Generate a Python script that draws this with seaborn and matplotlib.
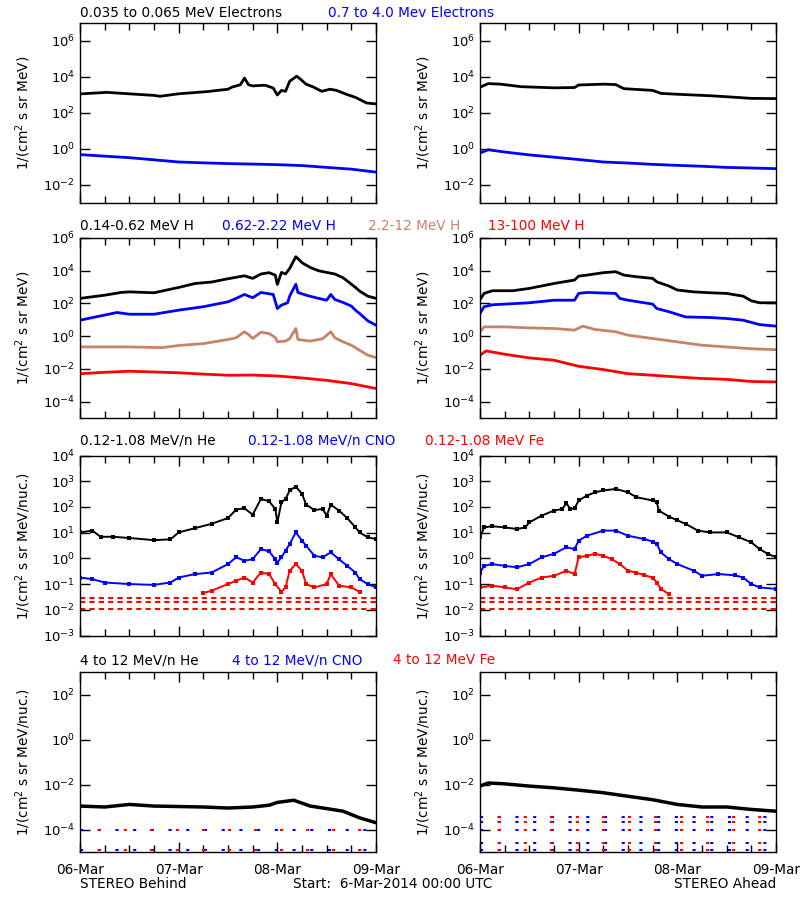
import numpy as np
import pandas as pd
import matplotlib
matplotlib.use("Agg")
import matplotlib.pyplot as plt
import matplotlib.dates as mdates
from matplotlib.ticker import FixedLocator, FuncFormatter, NullLocator
import seaborn as sns

# ---------------- DATA (hours after 2014-03-06 00:00 UTC) ----------------
# Row 1: electrons
e_lo_B_h = [0, 6.5, 18, 19.5, 24, 31, 36, 37, 39, 40, 41, 42, 45, 47, 48, 49, 50, 51, 52.7, 53.5, 55, 56.8, 58.8, 60.8, 62.4, 65, 67, 69.7, 72]
e_lo_B = [1150, 1400, 950, 850, 1170, 1550, 2100, 2750, 3700, 8700, 3700, 3200, 3500, 2450, 1000, 1800, 1600, 5800, 11000, 8000, 4000, 2750, 1600, 2100, 1800, 1050, 740, 360, 320]
e_hi_B_h = [0, 6, 12, 18, 24, 30, 36, 42, 48, 54, 60, 66, 72]
e_hi_B = [0.49, 0.40, 0.33, 0.25, 0.19, 0.17, 0.155, 0.145, 0.135, 0.12, 0.095, 0.076, 0.052]
e_lo_A_h = [0, 2, 5, 10, 18, 23, 24, 30, 33, 35, 42, 44, 48, 56, 60, 66, 72]
e_lo_A = [2700, 4300, 4000, 2900, 2500, 2600, 3600, 4000, 3800, 2250, 1800, 1230, 1100, 910, 800, 650, 630]
e_hi_A_h = [0, 2, 6, 12, 18, 24, 30, 36, 42, 48, 54, 60, 66, 72]
e_hi_A = [0.6, 0.91, 0.68, 0.47, 0.35, 0.26, 0.19, 0.166, 0.14, 0.123, 0.11, 0.095, 0.088, 0.081]

# Row 2: protons
h1_B_h = [0, 6, 10, 12, 18, 24, 28, 32, 36, 40, 42, 44, 46, 47.5, 48, 49, 50, 51, 52.5, 54, 56, 58, 60, 62, 64, 66, 67, 68, 70, 72]
h1_B = [204, 320, 470, 510, 450, 950, 1660, 2040, 3240, 4900, 3400, 6300, 7600, 5400, 1450, 7900, 6300, 13800, 72000, 31000, 15800, 10000, 7900, 6300, 3700, 1500, 950, 575, 280, 204]
h2_B_h = [0, 6, 9, 12, 18, 24, 30, 36, 38, 40, 42, 44, 47, 48, 49, 50.5, 51, 52.5, 53, 55, 58, 60, 61, 62, 64, 66, 67, 68, 70, 72]
h2_B = [9.5, 19.5, 28, 22, 22, 39, 63, 126, 204, 355, 224, 470, 355, 49, 79, 110, 280, 1500, 470, 320, 204, 158, 355, 174, 115, 69, 39, 24.5, 8.7, 4.7]
h3_B_h = [0, 12, 20, 24, 30, 36, 38, 40, 41, 42, 44, 46, 47.5, 48, 50, 51, 52.5, 53, 56, 59, 61, 62, 64, 66, 68, 70, 72]
h3_B = [0.22, 0.22, 0.20, 0.27, 0.35, 0.63, 0.8, 1.86, 1.26, 0.72, 1.74, 1.45, 0.83, 0.45, 0.5, 0.7, 2.95, 0.63, 0.5, 0.69, 1.86, 0.8, 0.45, 0.28, 0.138, 0.069, 0.049]
h4_B_h = [0, 6, 12, 18, 24, 30, 36, 42, 48, 54, 60, 66, 70, 72]
h4_B = [0.0051, 0.0062, 0.0072, 0.0065, 0.0058, 0.0048, 0.0041, 0.0042, 0.0037, 0.0028, 0.0020, 0.00126, 0.0008, 0.00063]
h1_A_h = [0, 1, 3, 8, 12, 18, 23, 24, 26, 30, 33, 35, 38, 42, 43, 46, 48, 52, 56, 60, 64, 66, 68, 72]
h1_A = [174, 410, 600, 600, 830, 1660, 2700, 4700, 5400, 7600, 8700, 5400, 4300, 3400, 2100, 1150, 660, 510, 450, 410, 280, 145, 110, 110]
h2_A_h = [0, 1, 3, 12, 18, 23, 24, 26, 33, 34, 36, 42, 43, 46, 50, 56, 60, 64, 68, 72]
h2_A = [24.5, 63, 83, 110, 158, 158, 410, 470, 410, 204, 158, 91, 49, 31, 15, 13.8, 12, 9.5, 5.1, 4.1]
h3_A_h = [0, 1, 6, 12, 18, 23, 25, 28, 33, 36, 42, 48, 54, 60, 66, 72]
h3_A = [1.86, 3.7, 3.7, 3.2, 2.95, 2.35, 4.1, 2.57, 1.86, 1.15, 0.72, 0.45, 0.28, 0.22, 0.17, 0.15]
h4_A_h = [0, 1.5, 6, 12, 18, 24, 30, 36, 42, 48, 54, 60, 66, 72]
h4_A = [0.069, 0.126, 0.079, 0.047, 0.034, 0.0145, 0.0091, 0.0051, 0.0041, 0.0032, 0.0026, 0.0023, 0.0017, 0.0016]

# Row 3: suprathermal heavy ions
he_B_h = [0, 3, 5, 8, 12, 18, 22, 24, 28, 32, 36, 38, 40, 42, 44, 46, 47.5, 48, 49, 50, 51, 52.5, 54, 55, 57, 59, 60, 61, 63, 65, 67, 68, 70, 72]
he_B = [10.2, 12, 6.9, 6.9, 6.2, 5.1, 5.5, 10.2, 15, 22, 37, 79, 89, 50, 204, 166, 83, 25, 151, 204, 437, 617, 324, 123, 76, 83, 46, 123, 72, 37, 16, 10.2, 6.6, 5.6]
cno_B_h = [0, 3, 6, 12, 18, 22, 24, 28, 32, 36, 38, 40, 42, 44, 46, 47.5, 48, 49, 50, 51, 52.5, 54, 55, 57, 59, 61, 63, 65, 67, 68, 70, 72]
cno_B = [0.18, 0.155, 0.115, 0.1, 0.093, 0.115, 0.18, 0.245, 0.28, 0.6, 1.1, 0.81, 0.93, 2.3, 1.86, 0.93, 0.69, 1.1, 2.0, 3.6, 10.2, 4.9, 3.1, 1.26, 1.1, 1.7, 0.93, 0.51, 0.28, 0.155, 0.1, 0.074]
fe_B_h = [30, 32, 36, 38, 40, 42, 44, 46, 47.5, 49, 50, 51, 52.5, 54, 55, 57, 60, 61, 63, 66, 68]
fe_B = [0.045, 0.055, 0.1, 0.135, 0.18, 0.115, 0.28, 0.245, 0.1, 0.05, 0.074, 0.33, 0.6, 0.33, 0.1, 0.074, 0.1, 0.245, 0.087, 0.074, 0.05]
he_A_h = [0, 1, 3, 6, 9, 11, 12, 15, 18, 20, 21, 22, 23, 24, 26, 28, 30, 33, 36, 38, 42, 43, 43.5, 46, 48, 50, 53, 56, 60, 63, 66, 68, 70, 72]
he_A = [6.6, 16, 17.8, 16, 13.8, 16, 25, 46, 72, 83, 138, 83, 89, 178, 275, 372, 437, 500, 372, 240, 178, 151, 72, 42, 30, 22, 12, 10.2, 10.2, 6.6, 4.2, 2.3, 1.5, 1.1]
cno_A_h = [0, 1, 3, 6, 9, 12, 15, 18, 21, 23, 24, 26, 30, 33, 36, 40, 42, 43, 44, 46, 48, 52, 54, 58, 62, 64, 66, 68, 72]
cno_A = [0.28, 0.51, 0.6, 0.51, 0.45, 0.6, 1.1, 1.5, 2.7, 2.3, 4.9, 7.6, 12, 12, 7.6, 5.6, 4.5, 3.6, 1.7, 0.93, 0.6, 0.33, 0.21, 0.245, 0.22, 0.18, 0.1, 0.074, 0.065]
fe_A_h = [0, 3, 6, 9, 12, 15, 18, 21, 23, 24, 26, 28, 30, 32, 34, 36, 38, 40, 42, 43, 44, 46]
fe_A = [0.074, 0.087, 0.074, 0.063, 0.115, 0.18, 0.21, 0.33, 0.245, 1.1, 1.26, 1.5, 1.26, 0.93, 0.6, 0.33, 0.28, 0.22, 0.18, 0.115, 0.065, 0.04]
fe_floor_levels = [0.011, 0.02, 0.03]

# Row 4: energetic heavy ions
he4_B_h = [0, 6, 12, 18, 24, 30, 36, 42, 46, 48, 52, 56, 60, 64, 68, 72]
he4_B = [1.1e-3, 1.0e-3, 1.3e-3, 1.1e-3, 1.05e-3, 1.0e-3, 9e-4, 1.0e-3, 1.2e-3, 1.6e-3, 2.0e-3, 1.1e-3, 8.5e-4, 6.5e-4, 3.3e-4, 2.0e-4]
he4_A_h = [0, 2, 6, 12, 18, 24, 30, 36, 42, 48, 54, 60, 66, 72]
he4_A = [8.5e-3, 1.17e-2, 1.07e-2, 8.5e-3, 7.1e-3, 5.6e-3, 4.3e-3, 3.0e-3, 2.1e-3, 1.3e-3, 1.0e-3, 1.0e-3, 7.8e-4, 6.5e-4]
floor4_B_levels = [1.0e-4, 1.2e-5]
floor4_A_levels = [1.0e-4, 2.2e-4, 3.5e-4, 2.5e-5, 1.2e-5]

day_labels = ["06-Mar", "07-Mar", "08-Mar", "09-Mar"]

# ---------------- STYLE ----------------
sns.set_theme(style="ticks")
plt.rcParams["font.family"] = ["DejaVu Sans"]
plt.rcParams["mathtext.fontset"] = "dejavusans"

BLACK = "#000000"
BLUE = "#0000ff"
BROWN = "#c8826a"
RED = "#ff0000"

t0 = pd.Timestamp("2014-03-06 00:00")
def T(hours):
    return t0 + pd.to_timedelta(np.asarray(hours, dtype=float), unit="h")

W, H = 800, 900
fig = plt.figure(figsize=(8, 9), dpi=100)

lefts = [80, 480]
tops = [23, 238, 455.5, 672]
AW, AH = 296, 180

ylims = [(1e-3, 1e7), (1e-5, 1e6), (1e-3, 1e4), (1e-5, 1e3)]
yticks = [[1e-2, 1e0, 1e2, 1e4, 1e6],
          [1e-4, 1e-2, 1e0, 1e2, 1e4, 1e6],
          [1e-3, 1e-2, 1e-1, 1e0, 1e1, 1e2, 1e3, 1e4],
          [1e-4, 1e-2, 1e0, 1e2]]
ylabels = ["1/(cm$^2$ s sr MeV)", "1/(cm$^2$ s sr MeV)",
           "1/(cm$^2$ s sr MeV/nuc.)", "1/(cm$^2$ s sr MeV/nuc.)"]

FS = 9.8
TFS = 9.5

def logfmt(v, pos):
    return r"$10^{%d}$" % int(round(np.log10(v)))

def make_ax(row, col):
    l = lefts[col]
    t = tops[row]
    ax = fig.add_axes([l / W, 1 - (t + AH) / H, AW / W, AH / H])
    ax.set_yscale("log")
    ax.set_ylim(*ylims[row])
    ax.set_xlim(T(0), T(72))
    ax.yaxis.set_major_locator(FixedLocator(yticks[row]))
    ax.yaxis.set_major_formatter(FuncFormatter(logfmt))
    ax.yaxis.set_minor_locator(NullLocator())
    ax.xaxis.set_major_locator(mdates.DayLocator())
    ax.xaxis.set_minor_locator(mdates.HourLocator(byhour=[6, 12, 18]))
    ax.xaxis.set_major_formatter(mdates.DateFormatter("%d-%b"))
    ax.tick_params(which="both", direction="in", top=True, right=True,
                   labelsize=TFS, colors="black", width=1)
    ax.tick_params(axis="x", labelsize=FS)
    ax.tick_params(which="major", length=7)
    ax.tick_params(which="minor", length=5)
    ax.tick_params(axis="x", pad=8)
    if row < 3:
        ax.tick_params(axis="x", labelbottom=False)
    for s in ax.spines.values():
        s.set_color("black")
        s.set_linewidth(1)
        s.set_visible(True)
    ax.set_facecolor("white")
    return ax

def finish_labels(ax, row):
    ax.set_xlabel("")
    ax.set_ylabel(ylabels[row], fontsize=FS, color="black")
    ax.yaxis.set_label_coords(-0.16, 0.5)

def line(ax, h, v, color, lw=2.0, marker=None, ms=2.5):
    sns.lineplot(x=T(h), y=v, ax=ax, color=color, linewidth=lw,
                 marker=marker, markersize=ms, markeredgewidth=0,
                 estimator=None, sort=False)

axes = [[make_ax(r, c) for c in range(2)] for r in range(4)]

# Row 1
line(axes[0][0], e_lo_B_h, e_lo_B, BLACK)
line(axes[0][0], e_hi_B_h, e_hi_B, BLUE)
line(axes[0][1], e_lo_A_h, e_lo_A, BLACK)
line(axes[0][1], e_hi_A_h, e_hi_A, BLUE)

# Row 2
for ax, sets in [(axes[1][0], [(h1_B_h, h1_B, BLACK), (h2_B_h, h2_B, BLUE), (h3_B_h, h3_B, BROWN), (h4_B_h, h4_B, RED)]),
                 (axes[1][1], [(h1_A_h, h1_A, BLACK), (h2_A_h, h2_A, BLUE), (h3_A_h, h3_A, BROWN), (h4_A_h, h4_A, RED)])]:
    for h, v, c in sets:
        line(ax, h, v, c)

# Row 3
for ax in axes[2]:
    ax.hlines(fe_floor_levels, T(0), T(72), colors=RED, linewidth=1.5,
              linestyles=[(0, (2.5, 2))] * len(fe_floor_levels))
line(axes[2][0], he_B_h, he_B, BLACK, lw=1.4, marker="s")
line(axes[2][0], cno_B_h, cno_B, BLUE, lw=1.4, marker="s")
line(axes[2][0], fe_B_h, fe_B, RED, lw=1.4, marker="s")
line(axes[2][1], he_A_h, he_A, BLACK, lw=1.4, marker="s")
line(axes[2][1], cno_A_h, cno_A, BLUE, lw=1.4, marker="s")
line(axes[2][1], fe_A_h, fe_A, RED, lw=1.4, marker="s")

# Row 4
for ax, levels in [(axes[3][0], floor4_B_levels), (axes[3][1], floor4_A_levels)]:
    ax.hlines(levels, T(0), T(72), colors=BLUE, linewidth=1.5,
              linestyles=[(0, (1.5, 7))] * len(levels))
    ax.hlines(levels, T(0), T(72), colors=RED, linewidth=1.5,
              linestyles=[(4, (1.5, 11))] * len(levels))
line(axes[3][0], he4_B_h, he4_B, BLACK, lw=2.5)
line(axes[3][1], he4_A_h, he4_A, BLACK, lw=2.5)

for ax in axes[3]:
    ax.set_xticks(T([0, 24, 48, 72]))
    ax.set_xticklabels(day_labels)

for r in range(4):
    for c in range(2):
        finish_labels(axes[r][c], r)

# ---------------- TITLES ----------------
def ftext(x, y, s, color, ha="left"):
    fig.text(x / W, 1 - y / H, s, color=color, fontsize=FS, ha=ha, va="center")

ftext(80, 13, "0.035 to 0.065 MeV Electrons", BLACK)
ftext(328, 13, "0.7 to 4.0 Mev Electrons", BLUE)
ftext(80, 226, "0.14-0.62 MeV H", BLACK)
ftext(222, 226, "0.62-2.22 MeV H", BLUE)
ftext(368, 226, "2.2-12 MeV H", BROWN)
ftext(488, 226, "13-100 MeV H", RED)
ftext(80, 441, "0.12-1.08 MeV/n He", BLACK)
ftext(248, 441, "0.12-1.08 MeV/n CNO", BLUE)
ftext(425, 441, "0.12-1.08 MeV Fe", RED)
ftext(80, 660, "4 to 12 MeV/n He", BLACK)
ftext(232, 660, "4 to 12 MeV/n CNO", BLUE)
ftext(393, 660, "4 to 12 MeV Fe", RED)

ftext(80, 884, "STEREO Behind", BLACK)
ftext(293, 884, "Start:  6-Mar-2014 00:00 UTC", BLACK)
ftext(776, 884, "STEREO Ahead", BLACK, ha="right")

fig.patch.set_facecolor("white")
fig.savefig("out.png", dpi=100, facecolor="white")
